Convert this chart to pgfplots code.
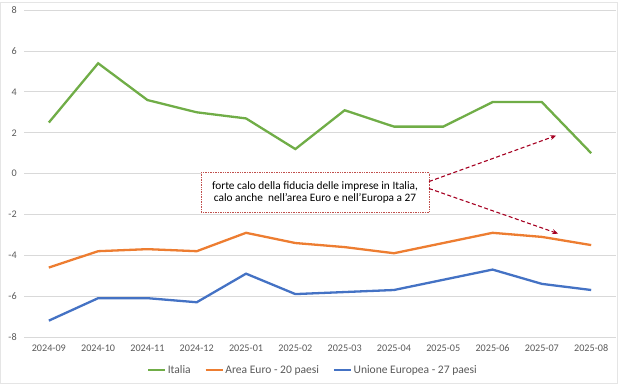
\documentclass[border=0pt]{standalone}
\usepackage{pgfplots}
\pgfplotsset{compat=1.18}
\usepackage{fontspec}
\setmainfont{Carlito}
\usetikzlibrary{arrows.meta}
\definecolor{cgreen}{HTML}{70AD47}
\definecolor{corange}{HTML}{ED7D31}
\definecolor{cblue}{HTML}{4472C4}
\definecolor{cgrid}{HTML}{D9D9D9}
\definecolor{ctick}{HTML}{595959}
\definecolor{cred}{HTML}{A50021}
\definecolor{cbox}{HTML}{C0504D}
\begin{document}
\begin{tikzpicture}[x=1bp,y=1bp]
\draw[white] (0,0) rectangle (624,385);
\draw[black!10,line width=0.6bp] (0.5,2) rectangle (617,383);
\begin{axis}[
  at={(24bp,48bp)}, anchor=south west,
  scale only axis, width=592bp, height=327bp,
  xmin=-0.5, xmax=11.5, ymin=-8, ymax=8,
  xtick={0,...,11},
  xticklabels={2024-09,2024-10,2024-11,2024-12,2025-01,2025-02,2025-03,2025-04,2025-05,2025-06,2025-07,2025-08},
  ytick={-8,-6,...,8},
  ymajorgrids, grid style={cgrid, line width=0.8bp},
  axis line style={draw=none},
  major tick length=0pt,
  /pgf/number format/assume math mode=true,
  ticklabel style={font=\fontsize{10.2}{12}\selectfont, text=ctick},
  xticklabel style={yshift=-4bp},
  yticklabel style={xshift=-4bp},
  legend columns=-1,
  legend style={draw=none, at={(rel axis cs:0.5,0)}, anchor=center, yshift=-33bp, xshift=-7bp,
    font=\fontsize{11.6}{13}\selectfont, text=ctick, /tikz/every even column/.append style={column sep=12bp}},
  legend image code/.code={\draw[#1, line width=1.6bp] (0bp,0bp) -- (17bp,0bp);},
  clip=false,
]
\addplot[cgreen, line width=2.3bp] coordinates {(0,2.5) (1,5.4) (2,3.6) (3,3.0) (4,2.7) (5,1.2) (6,3.1) (7,2.3) (8,2.3) (9,3.5) (10,3.5) (11,1.0)};
\addlegendentry{Italia}
\addplot[corange, line width=2.3bp] coordinates {(0,-4.6) (1,-3.8) (2,-3.7) (3,-3.8) (4,-2.9) (5,-3.4) (6,-3.6) (7,-3.9) (8,-3.4) (9,-2.9) (10,-3.1) (11,-3.5)};
\addlegendentry{Area Euro - 20 paesi}
\addplot[cblue, line width=2.3bp] coordinates {(0,-7.2) (1,-6.1) (2,-6.1) (3,-6.3) (4,-4.9) (5,-5.9) (6,-5.8) (7,-5.7) (8,-5.2) (9,-4.7) (10,-5.4) (11,-5.7)};
\addlegendentry{Unione Europea - 27 paesi}
\node[draw=cbox, densely dotted, line width=0.7bp, fill=white, minimum width=228bp, minimum height=40bp, align=center, inner sep=0pt, font=\fontsize{11.4}{11.5}\selectfont]
  at (axis cs:5.40,-0.93) {forte calo della fiducia delle imprese in Italia,\\calo anche\ \ nell'area Euro e nell'Europa a 27};
\draw[cred, dashed, line width=1.1bp, dash pattern=on 4bp off 2.5bp, -{Stealth[length=6bp,width=5bp]}] (axis cs:7.71,-0.39) -- (axis cs:10.29,1.86);
\draw[cred, dashed, line width=1.1bp, dash pattern=on 4bp off 2.5bp, -{Stealth[length=6bp,width=5bp]}] (axis cs:7.71,-0.73) -- (axis cs:10.33,-2.94);
\end{axis}
\end{tikzpicture}
\end{document}
